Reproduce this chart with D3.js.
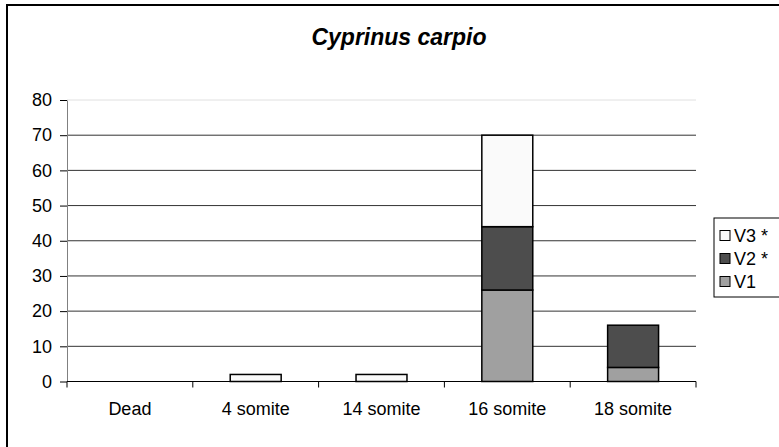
<!DOCTYPE html>
<html>
<head>
<meta charset="utf-8">
<script src="https://cdn.jsdelivr.net/npm/d3@7"></script>
<style>
  body { margin: 0; background: #fff; }
  text { font-family: Arial, "Liberation Sans", sans-serif; }
</style>
</head>
<body>
<svg id="chart" width="779" height="447"></svg>
<script>
// data
var categories = ["Dead", "4 somite", "14 somite", "16 somite", "18 somite"];
var seriesNames = ["V1", "V2 *", "V3 *"];
var v1 = [0, 0, 0, 26, 4];
var v2 = [0, 0, 0, 18, 12];
var v3 = [0, 2, 2, 26, 0];
var yTicks = [0, 10, 20, 30, 40, 50, 60, 70, 80];
var colors = ["#a0a0a0", "#4d4d4d", "#fafafa"];

var svg = d3.select("#chart");

var plot = {left: 67, right: 696, top: 100, bottom: 381.5};

// outer frame (right/bottom edges run off the picture)
svg.append("rect")
    .attr("x", 7).attr("y", 5)
    .attr("width", 800).attr("height", 480)
    .attr("fill", "none").attr("stroke", "#000").attr("stroke-width", 2);

svg.append("text")
    .attr("x", 399).attr("y", 45)
    .attr("text-anchor", "middle")
    .style("font-size", "23px").style("font-weight", "bold").style("font-style", "italic")
    .text("Cyprinus carpio");

var x = d3.scaleBand().domain(categories)
    .range([plot.left, plot.right]).paddingInner(0.595).paddingOuter(0.2975);
var y = d3.scaleLinear().domain([0, 80]).range([plot.bottom, plot.top]);

// gridlines
svg.append("g").selectAll("line")
  .data(yTicks.filter(function(d) { return d > 0; }))
  .enter().append("line")
    .attr("x1", plot.left).attr("x2", plot.right)
    .attr("y1", function(d) { return y(d); }).attr("y2", function(d) { return y(d); })
    .attr("stroke", function(d) { return d === 80 ? "#e0e0e0" : "#333"; })
    .attr("stroke-width", 1);

// stacked bars
var table = categories.map(function(c, i) {
  return {cat: c, V1: v1[i], "V2 *": v2[i], "V3 *": v3[i]};
});
var stack = d3.stack().keys(seriesNames)(table);

svg.append("g").selectAll("g")
  .data(stack)
  .enter().append("g")
    .attr("fill", function(d, i) { return colors[i]; })
  .selectAll("rect")
  .data(function(d) { return d.filter(function(p) { return p[1] - p[0] > 0; }); })
  .enter().append("rect")
    .attr("x", function(d) { return x(d.data.cat); })
    .attr("width", x.bandwidth())
    .attr("y", function(d) { return y(d[1]); })
    .attr("height", function(d) { return y(d[0]) - y(d[1]); })
    .attr("stroke", "#000").attr("stroke-width", 1.5);

// y axis
var yAxis = svg.append("g")
    .attr("transform", "translate(" + plot.left + ",0)")
    .call(d3.axisLeft(y).tickValues(yTicks).tickSize(7).tickSizeOuter(0).tickPadding(8));
yAxis.select(".domain").attr("stroke", "#808080");
yAxis.selectAll(".tick line").attr("stroke", "#000");
yAxis.selectAll("text").style("font-size", "18px").attr("fill", "#000");

// x axis with ticks between categories
var bounds = d3.range(categories.length + 1).map(function(i) {
  return plot.left + i * x.step();
});
var xg = svg.append("g").attr("transform", "translate(0," + plot.bottom + ")");
xg.append("line").attr("x1", plot.left).attr("x2", plot.right)
    .attr("stroke", "#000").attr("stroke-width", 1);
xg.selectAll("line.tk").data(bounds).enter().append("line")
    .attr("class", "tk")
    .attr("x1", function(d) { return d; }).attr("x2", function(d) { return d; })
    .attr("y1", 0).attr("y2", 6).attr("stroke", "#000");
xg.selectAll("text").data(categories).enter().append("text")
    .attr("x", function(d) { return x(d) + x.bandwidth() / 2; })
    .attr("y", 33)
    .attr("text-anchor", "middle")
    .style("font-size", "18px")
    .text(function(d) { return d; });

// legend
var legend = svg.append("g");
legend.append("rect")
    .attr("x", 714).attr("y", 218).attr("width", 100).attr("height", 79)
    .attr("fill", "#fff").attr("stroke", "#000").attr("stroke-width", 1);
var legendOrder = [2, 1, 0];
var items = legend.selectAll("g.item").data(legendOrder).enter().append("g")
    .attr("class", "item")
    .attr("transform", function(d, i) { return "translate(720," + (235.5 + i * 23) + ")"; });
items.append("rect")
    .attr("x", 0).attr("y", -5).attr("width", 10).attr("height", 10)
    .attr("fill", function(d) { return colors[d]; })
    .attr("stroke", "#000").attr("stroke-width", 1);
items.append("text")
    .attr("x", 14).attr("y", 6.5)
    .style("font-size", "18px")
    .text(function(d) { return seriesNames[d]; });
</script>
</body>
</html>
